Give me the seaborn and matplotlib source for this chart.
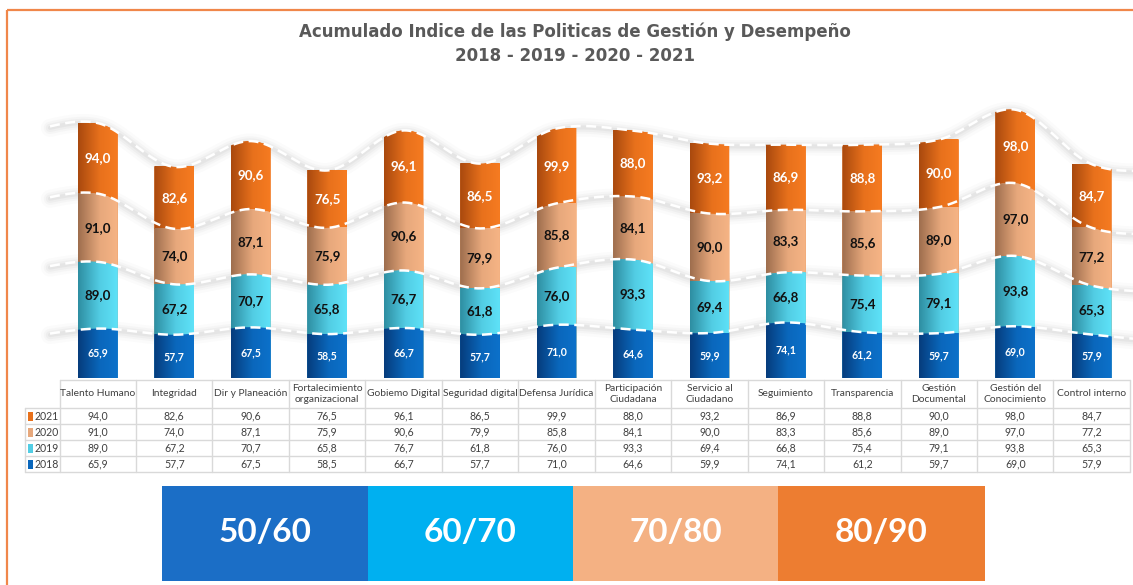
import numpy as np
import pandas as pd
import matplotlib
matplotlib.use("Agg")
import matplotlib.pyplot as plt
from matplotlib.patches import Polygon, Rectangle
from matplotlib.colors import to_rgb
import seaborn as sns

# ---------------------------------------------------------------- data
categories = ["Talento Humano", "Integridad", "Dir y Planeación",
              "Fortalecimiento\norganizacional", "Gobiemo Digital",
              "Seguridad digital", "Defensa Jurídica",
              "Participación\nCiudadana", "Servicio al\nCiudadano",
              "Seguimiento", "Transparencia", "Gestión\nDocumental",
              "Gestión del\nConocimiento", "Control interno"]
years = ["2018", "2019", "2020", "2021"]
v2018 = [65.9, 57.7, 67.5, 58.5, 66.7, 57.7, 71.0, 64.6, 59.9, 74.1, 61.2, 59.7, 69.0, 57.9]
v2019 = [89.0, 67.2, 70.7, 65.8, 76.7, 61.8, 76.0, 93.3, 69.4, 66.8, 75.4, 79.1, 93.8, 65.3]
v2020 = [91.0, 74.0, 87.1, 75.9, 90.6, 79.9, 85.8, 84.1, 90.0, 83.3, 85.6, 89.0, 97.0, 77.2]
v2021 = [94.0, 82.6, 90.6, 76.5, 96.1, 86.5, 99.9, 88.0, 93.2, 86.9, 88.8, 90.0, 98.0, 84.7]
ranges = ["50/60", "60/70", "70/80", "80/90"]

title_1 = "Acumulado Indice de las Politicas de Gestión y Desempeño"
title_2 = "2018 - 2019 - 2020 - 2021"

# ---------------------------------------------------------------- styles
series = [v2018, v2019, v2020, v2021]
grad_left = ["#063C7C", "#2E8EA2", "#9E6E4E", "#A9490E"]
grad_mid = ["#0A67BC", "#52CDE4", "#E7A87C", "#E8711C"]
grad_right = ["#0C71CA", "#5EE2F8", "#F6B485", "#F67B21"]
label_colors = ["white", "#111111", "#111111", "white"]
label_sizes = [7.6, 9.6, 9.6, 9.6]
range_colors = ["#1B6EC6", "#00B0F0", "#F4B183", "#ED7D31"]
grid_col = "#D9D9D9"
text_col = "#404040"

W, H = 1133, 585
c0, step = 97.8, 76.45          # pixel centre of the first bar, spacing
base_px, top_px = 378, 90       # chart baseline / top in pixels
px_per_unit = 0.75

sns.set_theme(style="white")
plt.rcParams["font.family"] = ["Lato", "DejaVu Sans"]

fig = plt.figure(figsize=(W / 100, H / 100), dpi=100)

# overlay in pixel coordinates for frame, titles, table and range boxes
ov = fig.add_axes([0, 0, 1, 1], zorder=0)
ov.set_xlim(0, W)
ov.set_ylim(H, 0)
ov.axis("off")

left_px = c0 - step / 2
right_px = c0 + step * 13.5
ax = fig.add_axes([left_px / W, (H - base_px) / H,
                   (right_px - left_px) / W, (base_px - top_px) / H], zorder=1)
ax.patch.set_alpha(0)
ymax = (base_px - top_px) / px_per_unit

n = len(categories)
vals = np.array(series)                  # (4, n)
cum = np.cumsum(vals, axis=0)            # stacked tops per year

# smooth wave through the stacked tops
def wave(yk_centre, xq):
    xk = np.arange(-1, n + 1, dtype=float)
    yk = np.concatenate([[yk_centre[0] - 12], yk_centre, [yk_centre[-1] - 10]])
    m = np.gradient(yk, xk)
    idx = np.clip(np.searchsorted(xk, xq) - 1, 0, len(xk) - 2)
    h = xk[idx + 1] - xk[idx]
    t = (xq - xk[idx]) / h
    h00 = 2 * t**3 - 3 * t**2 + 1
    h10 = t**3 - 2 * t**2 + t
    h01 = -2 * t**3 + 3 * t**2
    h11 = t**3 - t**2
    return h00 * yk[idx] + h10 * h * m[idx] + h01 * yk[idx + 1] + h11 * h * m[idx + 1]

x_line = np.linspace((50 - c0) / step, (W - c0) / step, 900)

def gradient_img(k):
    cl, cm, cr = to_rgb(grad_left[k]), to_rgb(grad_mid[k]), to_rgb(grad_right[k])
    t = np.linspace(0, 1, 64)
    img = np.zeros((1, 64, 3))
    for ch in range(3):
        img[0, :, ch] = np.interp(t, [0, 0.55, 1], [cl[ch], cm[ch], cr[ch]])
    return img

# stacked bars: tallest cumulative first, each level clipped under its wave
for order, k in enumerate([3, 2, 1, 0]):
    df = pd.DataFrame({"cat": categories, "val": cum[k]})
    before = len(ax.patches)
    sns.barplot(data=df, x="cat", y="val", order=categories, color=grad_mid[k],
                saturation=1, width=0.52, errorbar=None, ax=ax,
                zorder=2 + order, linewidth=0)
    bars = ax.patches[before:]
    for bar in bars:
        x0 = bar.get_x()
        x1 = x0 + bar.get_width()
        hgt = bar.get_height()
        xs = np.linspace(x0, x1, 40)
        ys = wave(cum[k], xs)
        clip = Polygon(np.column_stack([np.r_[x0, xs, x1], np.r_[0, ys, 0]]),
                       closed=True, transform=ax.transData)
        bar.set_clip_path(clip)
        im = ax.imshow(gradient_img(k), extent=(x0, x1, 0, hgt), aspect="auto",
                       interpolation="bilinear", zorder=2 + order + 0.5)
        im.set_clip_path(clip)

# soft grey shadow and white dashed line along every wave
for k in range(4):
    yl = wave(cum[k], x_line)
    for lw, a in [(13, 0.035), (9, 0.05), (6, 0.07), (3, 0.09)]:
        ax.plot(x_line, yl - 2, color="#959595", lw=lw, alpha=a,
                solid_capstyle="round", clip_on=False, zorder=1)
    ax.plot(x_line, yl, color="white", lw=1.8, dashes=(4, 2.2),
            dash_capstyle="butt", clip_on=False, zorder=10)

# value labels centred in each segment
for k in range(4):
    lower = cum[k] - vals[k]
    for i in range(n):
        ax.text(i, lower[i] + vals[k][i] / 2, f"{vals[k][i]:.1f}".replace(".", ","),
                ha="center", va="center", color=label_colors[k],
                fontsize=label_sizes[k], fontweight="bold", zorder=20)

ax.set_xlim(-0.5, n - 0.5)
ax.set_ylim(0, ymax)
ax.axis("off")

# ---------------------------------------------------------------- frame
ov.plot([7, W], [10, 10], color="#F0874A", lw=1.6, solid_capstyle="butt")
ov.plot([7, 7], [10, H], color="#F0874A", lw=1.6, solid_capstyle="butt")

# ---------------------------------------------------------------- titles
for yy, txt in [(32, title_1), (56, title_2)]:
    ov.text(575, yy, txt, ha="center", va="center", fontsize=12,
            fontweight="bold", color="#595959", family=["DejaVu Sans"])

# ---------------------------------------------------------------- table
col_edges = [c0 - step / 2 + step * i for i in range(n + 1)]
tbl_left = 25
hdr_top, hdr_bot = 380, 408
row_h = 16
row_tops = [hdr_bot + row_h * r for r in range(5)]
t_right = col_edges[-1]

ov.plot([col_edges[0], t_right], [hdr_top, hdr_top], color=grid_col, lw=1)
for yv in row_tops:
    ov.plot([tbl_left, t_right], [yv, yv], color=grid_col, lw=1)
ov.plot([tbl_left, tbl_left], [hdr_bot, row_tops[-1]], color=grid_col, lw=1)
for xe in col_edges:
    ov.plot([xe, xe], [hdr_top, row_tops[-1]], color=grid_col, lw=1)

for i, cat in enumerate(categories):
    xc = c0 + step * i
    ov.text(xc, (hdr_top + hdr_bot) / 2, cat, ha="center", va="center",
            fontsize=7.4, color=text_col, linespacing=1.25)

for r, k in enumerate([3, 2, 1, 0]):
    yc = row_tops[r] + row_h / 2
    ov.add_patch(Rectangle((28, yc - 4.5), 5, 9, color=grad_mid[k], lw=0))
    ov.text(35, yc, years[k], ha="left", va="center", fontsize=7.6, color=text_col)
    for i in range(n):
        ov.text(c0 + step * i, yc, f"{vals[k][i]:.1f}".replace(".", ","),
                ha="center", va="center", fontsize=7.6, color=text_col)

# ---------------------------------------------------------------- range boxes
box_x = [162, 368, 573, 778, 985]
for j, lab in enumerate(ranges):
    ov.add_patch(Rectangle((box_x[j], 486), box_x[j + 1] - box_x[j], 95,
                           color=range_colors[j], lw=0))
    ov.text((box_x[j] + box_x[j + 1]) / 2, 533, lab, ha="center", va="center",
            fontsize=24, fontweight="bold", color="white")

fig.savefig("out.png", dpi=100)
